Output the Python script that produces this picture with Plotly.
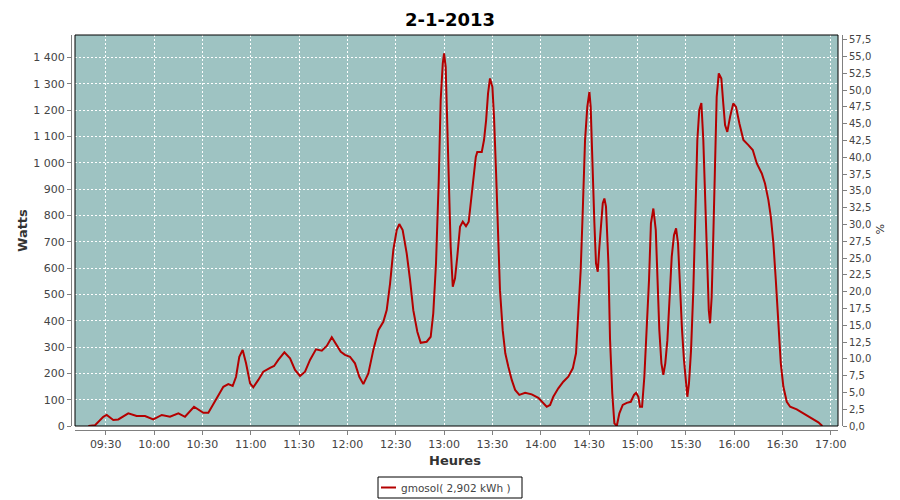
import plotly.graph_objects as go

DATE = "2013-01-02"
TITLE = "2-1-2013"
SERIES_NAME = "gmosol( 2,902 kWh )"

times = [
    "09:19:12", "09:23:24", "09:28:30", "09:30:36", "09:34:42", "09:37:48", "09:44:00", "09:49:12",
    "09:54:24", "09:59:30", "10:04:48", "10:09:54", "10:15:06", "10:19:12", "10:24:48", "10:30:36",
    "10:33:42", "10:37:48", "10:43:00", "10:46:06", "10:48:48", "10:50:54", "10:52:54", "10:55:00",
    "10:57:06", "10:59:36", "11:01:36", "11:04:42", "11:07:48", "11:12:00", "11:14:30", "11:17:06",
    "11:20:54", "11:24:24", "11:27:30", "11:30:36", "11:33:42", "11:36:48", "11:40:30", "11:44:06",
    "11:47:12", "11:50:18", "11:53:24", "11:55:54", "11:58:30", "12:01:36", "12:04:42", "12:07:24",
    "12:09:54", "12:13:00", "12:16:06", "12:19:12", "12:22:18", "12:24:24", "12:26:30", "12:28:30",
    "12:30:36", "12:32:12", "12:34:18", "12:36:48", "12:38:54", "12:40:54", "12:43:24", "12:45:30",
    "12:49:12", "12:51:42", "12:53:18", "12:55:00", "12:56:42", "12:57:54", "12:59:12", "13:00:00",
    "13:01:00", "13:02:00", "13:03:06", "13:04:06", "13:05:24", "13:06:48", "13:08:12", "13:09:54",
    "13:11:36", "13:13:36", "13:15:18", "13:16:42", "13:18:12", "13:19:42", "13:20:36", "13:23:24",
    "13:24:48", "13:26:06", "13:27:18", "13:28:30", "13:30:00", "13:31:00", "13:32:18", "13:33:18",
    "13:34:42", "13:36:24", "13:38:00", "13:39:54", "13:42:00", "13:44:06", "13:46:42", "13:50:18",
    "13:54:24", "13:58:30", "14:01:36", "14:03:42", "14:05:48", "14:07:48", "14:10:54", "14:14:00",
    "14:17:06", "14:19:54", "14:21:54", "14:23:18", "14:24:48", "14:26:06", "14:27:30", "14:28:54",
    "14:30:12", "14:31:00", "14:32:00", "14:33:18", "14:34:18", "14:35:24", "14:36:24", "14:37:24",
    "14:38:30", "14:39:30", "14:40:30", "14:42:00", "14:43:00", "14:44:24", "14:45:42", "14:47:12",
    "14:48:48", "14:50:54", "14:53:24", "14:55:54", "14:57:54", "14:59:12", "15:00:36", "15:01:36",
    "15:02:54", "15:04:18", "15:05:48", "15:07:12", "15:08:24", "15:09:54", "15:11:24", "15:12:24",
    "15:13:36", "15:14:54", "15:16:06", "15:17:18", "15:18:36", "15:19:48", "15:21:18", "15:22:42",
    "15:24:00", "15:25:12", "15:26:30", "15:27:42", "15:28:54", "15:30:12", "15:31:00", "15:32:00",
    "15:33:18", "15:34:42", "15:36:00", "15:37:12", "15:38:24", "15:39:42", "15:40:54", "15:42:12",
    "15:43:12", "15:44:18", "15:45:06", "15:46:06", "15:47:06", "15:48:12", "15:49:12", "15:50:30",
    "15:52:06", "15:53:18", "15:54:24", "15:55:48", "15:57:30", "15:59:30", "16:01:12", "16:03:18",
    "16:05:48", "16:08:54", "16:11:36", "16:14:06", "16:17:12", "16:19:12", "16:21:18", "16:22:48",
    "16:24:24", "16:25:54", "16:27:30", "16:29:00", "16:30:36", "16:32:42", "16:34:48", "16:38:54",
    "16:43:00", "16:48:12", "16:52:18", "16:54:48",
]

watts = [
    0, 3, 35, 42, 23, 25, 48, 38,
    38, 25, 42, 35, 48, 35, 73, 50,
    50, 92, 149, 159, 152, 187, 263, 289,
    238, 162, 147, 175, 206, 221, 228, 251,
    280, 257, 213, 190, 206, 251, 291, 286,
    304, 337, 308, 282, 270, 263, 238, 187,
    159, 200, 289, 364, 396, 440, 542, 668,
    744, 767, 744, 656, 554, 440, 358, 316,
    320, 339, 428, 618, 934, 1238, 1377, 1415,
    1364, 1149, 896, 681, 529, 561, 643, 757,
    776, 759, 776, 858, 959, 1022, 1041, 1041,
    1086, 1162, 1263, 1320, 1288, 1174, 959, 744,
    516, 364, 276, 225, 175, 137, 118, 126,
    120, 107, 88, 73, 80, 111, 143, 168,
    187, 219, 276, 415, 592, 820, 1086, 1212,
    1269, 1212, 972, 770, 618, 586, 681, 770,
    846, 864, 833, 618, 330, 124, 10, 0,
    48, 80, 88, 92, 118, 126, 111, 73,
    73, 187, 364, 554, 770, 826, 744, 567,
    364, 238, 194, 238, 326, 466, 643, 725,
    751, 694, 504, 364, 251, 149, 111, 162,
    289, 516, 833, 1086, 1200, 1227, 1086, 846,
    618, 440, 390, 491, 719, 997, 1250, 1339,
    1320, 1225, 1143, 1117, 1174, 1225, 1212, 1149,
    1086, 1067, 1048, 997, 959, 921, 858, 795,
    694, 554, 402, 238, 149, 92, 73, 63,
    48, 29, 14, 0,
]

x_tick_times = ["09:30", "10:00", "10:30", "11:00", "11:30", "12:00", "12:30", "13:00",
                "13:30", "14:00", "14:30", "15:00", "15:30", "16:00", "16:30", "17:00"]

watt_ticks = [0, 100, 200, 300, 400, 500, 600, 700, 800, 900, 1000, 1100, 1200, 1300, 1400]
watt_tick_labels = ["0", "100", "200", "300", "400", "500", "600", "700", "800", "900",
                    "1 000", "1 100", "1 200", "1 300", "1 400"]

pct_ticks = [0, 2.5, 5, 7.5, 10, 12.5, 15, 17.5, 20, 22.5, 25, 27.5, 30, 32.5, 35, 37.5,
             40, 42.5, 45, 47.5, 50, 52.5, 55, 57.5]
pct_tick_labels = ["0,0", "2,5", "5,0", "7,5", "10,0", "12,5", "15,0", "17,5", "20,0", "22,5",
                   "25,0", "27,5", "30,0", "32,5", "35,0", "37,5", "40,0", "42,5", "45,0",
                   "47,5", "50,0", "52,5", "55,0", "57,5"]

x_range = ["09:10:56", "17:04:30"]
watt_range = [0, 1485]
pct_range = [0, 58.2]

# ---- layout geometry (window pixels) ----
WIN_W, WIN_H = 900, 500
PAGE_MARGIN = 8            # default body margin of the html page
W, H = WIN_W - PAGE_MARGIN, WIN_H - PAGE_MARGIN
PL, PR, PT, PB = 75, 838, 35, 426
FONT = "DejaVu Sans"
TICK_COLOR = "#444444"
AXIS_COLOR = "#808080"
LINE_COLOR = "#B40000"
PLOT_BG = "#9EC3C2"

def px(x):
    return (x - PAGE_MARGIN) / W

def py(y):
    return 1 - (y - PAGE_MARGIN) / H

x_vals = [f"{DATE} {t}" for t in times]

fig = go.Figure()
fig.add_trace(go.Scatter(
    x=x_vals, y=watts, mode="lines", name=SERIES_NAME,
    line=dict(color=LINE_COLOR, width=2), showlegend=False,
))
fig.add_trace(go.Scatter(
    x=[x_vals[0]], y=[None], yaxis="y2", mode="lines", showlegend=False, hoverinfo="skip",
))

tickfont = dict(family=FONT, size=11, color=TICK_COLOR)

fig.update_layout(
    template="none",
    width=W, height=H,
    margin=dict(l=0, r=0, t=0, b=0, autoexpand=False),
    paper_bgcolor="white",
    plot_bgcolor=PLOT_BG,
    title=dict(text="<b>" + TITLE + "</b>", x=px(450), xanchor="center", y=py(20), yanchor="middle",
               font=dict(family=FONT, size=18, color="black")),
    xaxis=dict(
        type="date",
        automargin=False,
        domain=[px(PL), px(PR)],
        range=[f"{DATE} {x_range[0]}", f"{DATE} {x_range[1]}"],
        tickvals=[f"{DATE} {t}" for t in x_tick_times],
        ticktext=x_tick_times,
        anchor="free", position=py(430),
        showline=True, linecolor=AXIS_COLOR, linewidth=1,
        ticks="outside", ticklen=4, tickcolor=AXIS_COLOR,
        tickfont=tickfont,
        showgrid=True, gridcolor="white", gridwidth=1, griddash="2px,2px",
        zeroline=False,
    ),
    yaxis=dict(
        automargin=False,
        domain=[py(PB), py(PT)],
        range=watt_range,
        tickvals=watt_ticks, ticktext=watt_tick_labels,
        anchor="free", position=px(71),
        showline=True, linecolor=AXIS_COLOR, linewidth=1,
        ticks="outside", ticklen=4, tickcolor=AXIS_COLOR,
        tickfont=tickfont,
        showgrid=True, gridcolor="white", gridwidth=1, griddash="2px,2px",
        zeroline=False,
    ),
    yaxis2=dict(
        automargin=False,
        overlaying="y", side="right",
        range=pct_range,
        tickvals=pct_ticks, ticktext=pct_tick_labels,
        anchor="free", position=px(842),
        showline=True, linecolor=AXIS_COLOR, linewidth=1,
        ticks="outside", ticklen=4, tickcolor=AXIS_COLOR,
        tickfont=dict(family=FONT, size=10, color=TICK_COLOR),
        showgrid=False, zeroline=False,
    ),
)

# plot border
fig.add_shape(type="rect", xref="x domain", yref="y domain", x0=0, x1=1, y0=0, y1=1,
              line=dict(color="black", width=1), fillcolor="rgba(0,0,0,0)", layer="above")

axis_title_font = dict(family=FONT, size=13, color="#333333")
fig.add_annotation(text="<b>Watts</b>", xref="paper", yref="paper", x=px(22), y=py(231),
                   textangle=-90, showarrow=False, font=axis_title_font,
                   xanchor="center", yanchor="middle")
fig.add_annotation(text="<b>Heures</b>", xref="paper", yref="paper", x=px(455), y=py(460),
                   showarrow=False, font=axis_title_font, xanchor="center", yanchor="middle")
fig.add_annotation(text="%", xref="paper", yref="paper", x=px(880), y=py(229),
                   textangle=90, showarrow=False, font=dict(family=FONT, size=11, color="#333333"),
                   xanchor="center", yanchor="middle")

# legend box (drawn manually to match the short line sample)
fig.add_shape(type="rect", xref="paper", yref="paper", x0=px(378), x1=px(522), y0=py(498), y1=py(477),
              line=dict(color="black", width=1), fillcolor="white")
fig.add_shape(type="line", xref="paper", yref="paper", x0=px(381), x1=px(396), y0=py(487.5), y1=py(487.5),
              line=dict(color=LINE_COLOR, width=2))
fig.add_annotation(text=SERIES_NAME, xref="paper", yref="paper", x=px(399), y=py(487.5),
                   showarrow=False, xanchor="left", yanchor="middle",
                   font=dict(family=FONT, size=10.5, color=TICK_COLOR))

fig.write_html("out.html")
